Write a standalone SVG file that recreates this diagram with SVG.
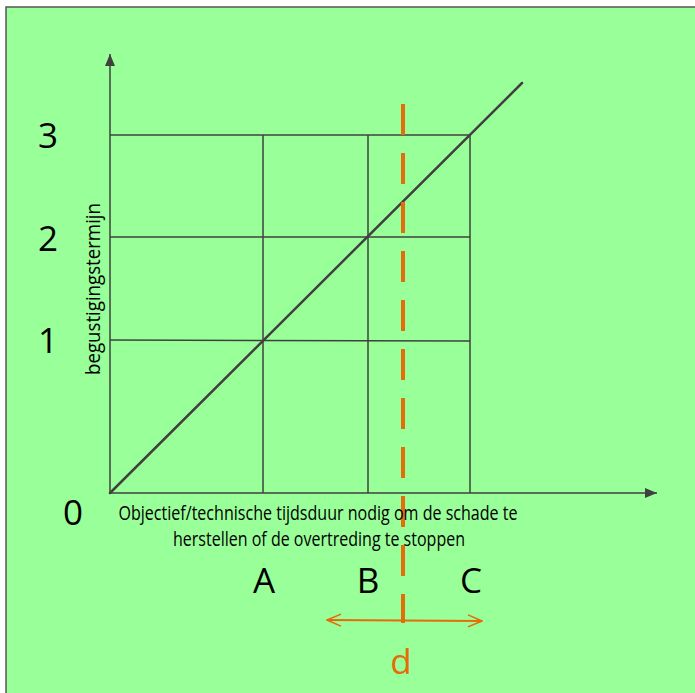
<svg xmlns="http://www.w3.org/2000/svg" width="695" height="693" viewBox="0 0 695 693">
<style>
.ax{stroke:#404040;stroke-width:1.5;fill:none}
.grid{stroke:#404040;stroke-width:1.5;fill:none}
.num{font-family:"Open Sans","Liberation Sans",Arial,sans-serif;font-size:35px;fill:#000;text-anchor:middle}
.lbl{font-family:"Open Sans","Liberation Sans",Arial,sans-serif;font-size:19.5px;fill:#000;text-anchor:middle}
.org{stroke:#E46C0A;fill:none}
</style>
<defs>
<marker id="tri" viewBox="0 0 12 10" refX="12" refY="5" markerWidth="12" markerHeight="10" markerUnits="userSpaceOnUse" orient="auto">
<path d="M0,0 L12,5 L0,10 Z" fill="#404040"/>
</marker>
<marker id="chev" viewBox="0 0 16 14" refX="15" refY="7" markerWidth="16" markerHeight="14" markerUnits="userSpaceOnUse" orient="auto-start-reverse">
<path d="M1,1 L15,7 L1,13" fill="none" stroke="#E46C0A" stroke-width="1.5"/>
</marker>
</defs>
<rect x="0" y="0" width="695" height="693" fill="#fff"/>
<rect x="6" y="7" width="695" height="693" fill="#99FF99" stroke="#555" stroke-width="1.5"/>
<g id="connectors">
<line class="ax" x1="110" y1="493" x2="110" y2="54" marker-end="url(#tri)"/>
<line class="ax" x1="110" y1="493" x2="657" y2="493" marker-end="url(#tri)"/>
<line class="grid" x1="110" y1="135" x2="470" y2="135"/>
<line class="grid" x1="110" y1="237" x2="470" y2="237"/>
<line class="grid" x1="110" y1="340" x2="470" y2="341"/>
<line class="grid" x1="263" y1="135" x2="263" y2="493"/>
<line class="grid" x1="368" y1="135" x2="368" y2="493"/>
<line class="grid" x1="470" y1="135" x2="470" y2="493"/>
<line x1="110" y1="493" x2="522" y2="83" stroke="#404040" stroke-width="2.5" stroke-linecap="round"/>
<line class="org" x1="403" y1="104" x2="403" y2="623" stroke-width="4" stroke-dasharray="31 18"/>
<line class="org" x1="327" y1="620" x2="482" y2="621" stroke-width="1.8" marker-start="url(#chev)" marker-end="url(#chev)"/>
</g>
<g id="labels">
<text class="num" x="48" y="148">3</text>
<text class="num" x="48" y="251">2</text>
<text class="num" x="48" y="353">1</text>
<text class="num" x="73" y="525">0</text>
<text class="num" x="264" y="593">A</text>
<text class="num" x="368" y="593">B</text>
<text class="num" x="471" y="593">C</text>
<text class="num" x="401" y="674" style="fill:#E46C0A">d</text>
<text class="lbl" x="318" y="520" textLength="399" lengthAdjust="spacingAndGlyphs">Objectief/technische tijdsduur nodig om de schade te</text>
<text class="lbl" x="319" y="546" textLength="292" lengthAdjust="spacingAndGlyphs">herstellen of de overtreding te stoppen</text>
<text class="lbl" transform="translate(100,289) rotate(-90)" x="0" y="0" textLength="172" lengthAdjust="spacingAndGlyphs">begustigingstermijn</text>
</g>
</svg>
